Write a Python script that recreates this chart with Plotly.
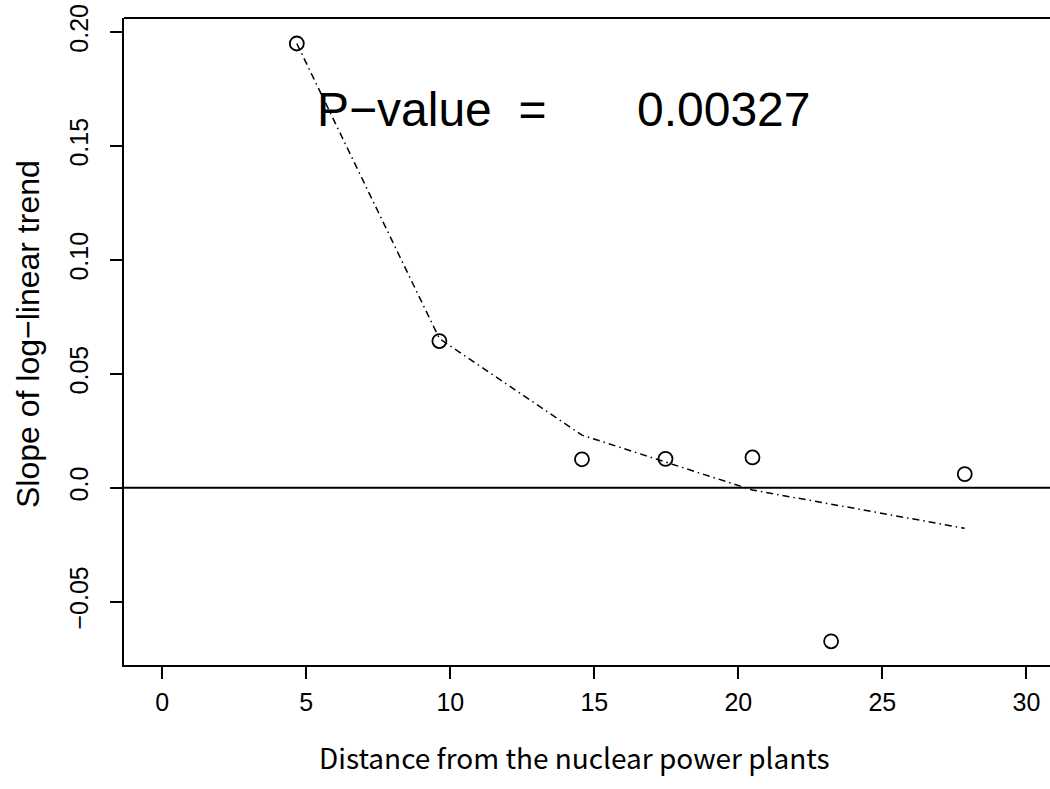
import plotly.graph_objects as go

# Data
distance = [4.67, 9.62, 14.57, 17.47, 20.49, 23.22, 27.86]
slope = [0.195, 0.0644, 0.0125, 0.0127, 0.0133, -0.0674, 0.0060]
fitted = [0.195, 0.0655, 0.0231, 0.0114, -0.0010, -0.0072, -0.0178]
x_ticks = [0, 5, 10, 15, 20, 25, 30]
y_ticks = [-0.05, 0.0, 0.05, 0.10, 0.15, 0.20]
y_ticklabels = ["\u22120.05", "0.0", "0.05", "0.10", "0.15", "0.20"]
p_label = "P\u2212value  ="
p_value = "0.00327"

tick_font = dict(family="Liberation Sans, Arial", size=25, color="black")

fig = go.Figure()

# horizontal reference line at 0
fig.add_hline(y=0, line=dict(color="black", width=2.2))

fig.add_trace(go.Scatter(
    x=distance, y=fitted, mode="lines",
    line=dict(color="black", width=1.5, dash="7px,4px,1.5px,4px"),
    showlegend=False, hoverinfo="skip"))

fig.add_trace(go.Scatter(
    x=distance, y=slope, mode="markers",
    marker=dict(symbol="circle-open", size=14, color="black", line=dict(width=1.8, color="black")),
    showlegend=False))

fig.add_annotation(x=5.29, y=0.166, xref="x", yref="y", text=p_label, showarrow=False,
                   xanchor="left", yanchor="middle",
                   font=dict(family="Liberation Sans, Arial", size=48, color="black"))
fig.add_annotation(x=16.4, y=0.166, xref="x", yref="y", text=p_value, showarrow=False,
                   xanchor="left", yanchor="middle",
                   font=dict(family="Liberation Sans, Arial", size=48, color="black"))

W, H = 1050, 789
L, R, T, B = 124, 0, 18, 124

def px_to_paper(px, py):
    return (px - L) / (W - L - R), (H - py - B) / (H - T - B)

# axis titles placed at reference pixel positions
xt, yt = px_to_paper(574, 757)
fig.add_annotation(x=xt, y=yt, xref="paper", yref="paper", text="Distance from the nuclear power plants",
                   showarrow=False, xanchor="center", yanchor="middle",
                   font=dict(family="Noto Sans CJK JP, Liberation Sans", size=28, color="black"))
xt, yt = px_to_paper(28, 334)
fig.add_annotation(x=xt, y=yt, xref="paper", yref="paper", text="Slope of log\u2212linear trend", textangle=-90,
                   showarrow=False, xanchor="center", yanchor="middle",
                   font=dict(family="Liberation Sans, Arial", size=32, color="black"))

fig.update_layout(
    width=W, height=H,
    margin=dict(l=L, r=R, t=T, b=B, pad=0),
    plot_bgcolor="white", paper_bgcolor="white",
    xaxis=dict(range=[-1.33, 30.82], tickvals=x_ticks, ticktext=[str(v) for v in x_ticks],
               showgrid=False, zeroline=False, showline=True, linecolor="black", linewidth=2,
               mirror=False, ticks="outside", ticklen=12, tickwidth=2, tickcolor="black",
               tickfont=tick_font, ticklabelstandoff=2),
    yaxis=dict(range=[-0.0778, 0.2062], tickvals=y_ticks, ticktext=y_ticklabels,
               showgrid=False, zeroline=False, showline=True, linecolor="black", linewidth=2,
               ticks="outside", ticklen=12, tickwidth=2, tickcolor="black",
               tickangle=-90, tickfont=tick_font, ticklabelstandoff=12),
)
# top border of the box
fig.add_shape(type="line", xref="paper", yref="paper", x0=0, x1=1, y0=1, y1=1,
              line=dict(color="black", width=2))

fig.write_html("out.html")
